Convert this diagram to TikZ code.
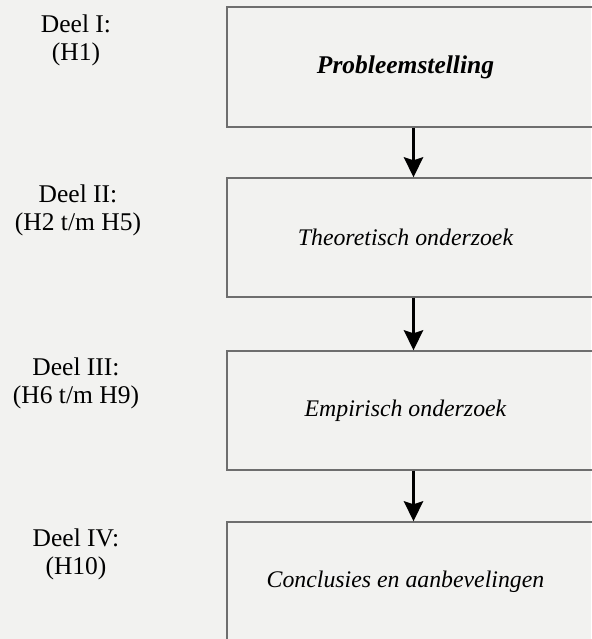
\documentclass[tikz,border=0pt]{standalone}
\usepackage{fontspec}
\setmainfont{Liberation Serif}
\usetikzlibrary{arrows.meta}
\definecolor{paper}{RGB}{242,242,240}
\definecolor{frame}{RGB}{110,110,110}
\newcommand{\stagetext}[1]{\hspace*{-16pt}#1}
\tikzset{
  stage/.style={draw=frame, line width=1.3pt, minimum width=373pt,
    minimum height=119pt, inner sep=0pt,
    font=\fontsize{23.8}{28}\selectfont\itshape},
  part/.style={anchor=north, align=center, inner sep=0pt,
    font=\fontsize{25.5}{28}\selectfont},
  flow/.style={line width=3.6pt,
    -{Stealth[length=20pt,width=19pt,inset=3pt]}}
}
\begin{document}
\begin{tikzpicture}[x=1pt,y=-1pt]
  \useasboundingbox (0,0) rectangle (591,639);
  \fill[paper] (0,0) rectangle (591,639);

  % the four stages of the study
  \node[stage, minimum height=120pt] (b1) at (413.5,67)
    {\stagetext{\fontsize{25.5}{28}\selectfont\bfseries Probleemstelling}};
  \node[stage] (b2) at (413.5,237.5) {\stagetext{Theoretisch onderzoek}};
  \node[stage] (b3) at (413.5,410.5) {\stagetext{Empirisch onderzoek}};
  \node[stage] (b4) at (413.5,581.5) {\stagetext{Conclusies en aanbevelingen}};

  % part / chapter labels
  \node[part] (p1) at (76,15)  {Deel I:\\(H1)};
  \node[part] (p2) at (78,185) {Deel II:\\(H2 t/m H5)};
  \node[part] (p3) at (76,358) {Deel III:\\(H6 t/m H9)};
  \node[part] (p4) at (76,529) {Deel IV:\\(H10)};

  % flow between the stages
  \draw[flow] (b1.south) -- (b2.north);
  \draw[flow] (b2.south) -- (b3.north);
  \draw[flow] (b3.south) -- (b4.north);
\end{tikzpicture}
\end{document}
